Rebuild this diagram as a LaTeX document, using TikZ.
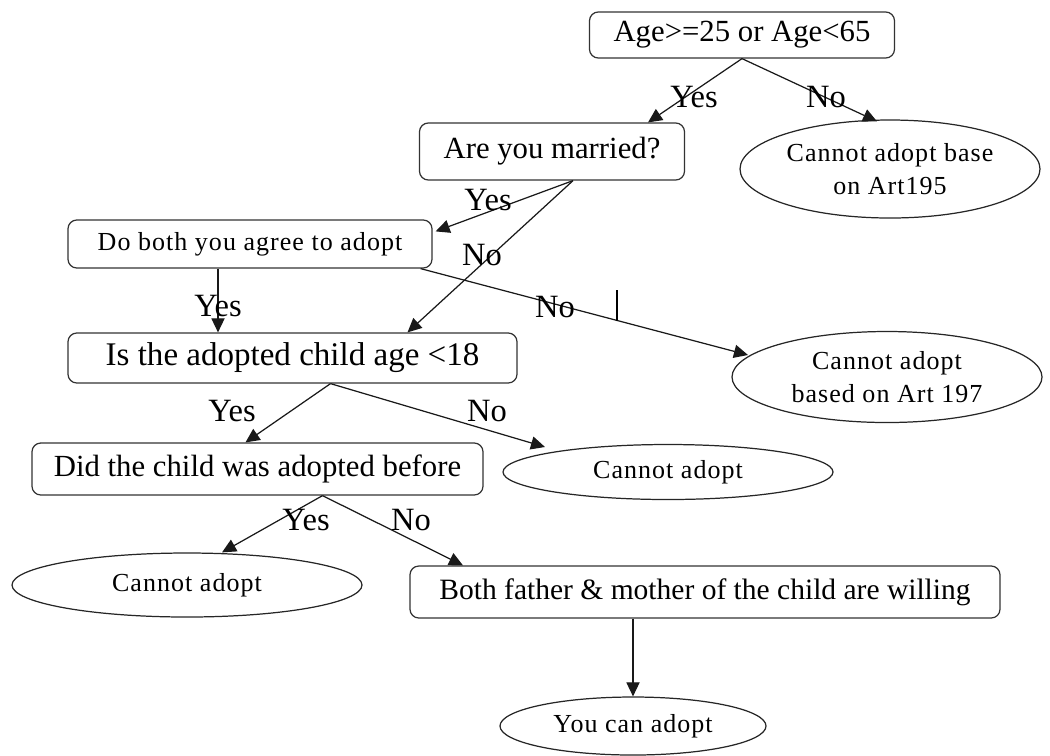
\documentclass[tikz,border=0pt]{standalone}
\usepackage{fontspec}
\setmainfont{Liberation Serif}
\newfontfamily\spacedserif[LetterSpace=4]{Liberation Serif}
\usetikzlibrary{shapes.geometric,arrows.meta,calc}
\newcommand\pxu{0.02cm}
\tikzset{
  box/.style={draw=black!80, line width=0.7pt, rounded corners=5pt, inner sep=0pt, fill=white},
  oval/.style={draw=black!85, line width=0.7pt, ellipse, inner sep=0pt, align=center, fill=white},
  big/.style={font=\fontsize{17.5}{20}\selectfont},
  small/.style={font=\spacedserif\fontsize{14.8}{19}\selectfont},
  lbl/.style={font=\fontsize{18.5}{20}\selectfont, inner sep=0pt},
  conn/.style={draw=black!90, line width=0.7pt, -{Triangle[length=8pt,width=7.5pt]}},
}
\begin{document}
\begin{tikzpicture}[x=\pxu, y=-\pxu]
\useasboundingbox (0,0) rectangle (1050,755);

% decision boxes
\node[box, big, minimum width=305*\pxu, minimum height=46*\pxu] (age) at (742,35) {Age>=25 or Age<65};
\node[box, big, minimum width=265*\pxu, minimum height=57*\pxu] (married) at (552,151.5) {Are you married?};
\node[box, small, minimum width=364*\pxu, minimum height=48*\pxu] (agree) at (250,244) {Do both you agree to adopt};
\node[box, font=\fontsize{18.8}{20}\selectfont, minimum width=449*\pxu, minimum height=50*\pxu] (child) at (292.5,358) {Is the adopted child age <18};
\node[box, big, minimum width=451*\pxu, minimum height=52*\pxu] (before) at (257.5,469) {Did the child was adopted before};
\node[box, font=\fontsize{16.8}{20}\selectfont, minimum width=590*\pxu, minimum height=52*\pxu] (willing) at (705,592) {Both father \& mother of the child are willing};

% outcomes
\node[oval, small, minimum width=300*\pxu, minimum height=98*\pxu] (art195) at (890,169) {Cannot adopt base\\on Art195};
\node[oval, small, minimum width=310*\pxu, minimum height=91*\pxu] (art197) at (887,377) {Cannot adopt\\based on Art 197};
\node[oval, small, minimum width=330*\pxu, minimum height=55*\pxu] (no1) at (668,472) {Cannot adopt};
\node[oval, small, minimum width=350*\pxu, minimum height=64*\pxu] (no2) at (187,585) {Cannot adopt};
\node[oval, small, minimum width=266*\pxu, minimum height=58*\pxu] (yes) at (633,726) {You can adopt};

% connectors
\path[conn] (age.south) -- ($(married.north)+(96,0)$);
\path[conn] (age.south) -- ($(art195.north)+(-13,2)$);
\path[conn] ($(married.south)+(21,0)$) -- ($(agree.north east)+(3,12)$);
\path[conn] ($(married.south)+(21,0)$) -- ($(child.north)+(115,0)$);
\path[conn] ($(agree.south)+(-32,0)$) -- ($(child.north)+(-74.5,0)$);
\path[conn] ($(agree.south east)+(-12,0)$) -- ($(art197.center)+(-139,-22)$);
\path[conn] ($(child.south)+(38,0)$) -- ($(before.north)+(-12,0)$);
\path[conn] ($(child.south)+(38,0)$) -- ($(no1.center)+(-123,-25)$);
\path[conn] ($(before.south)+(65,0)$) -- ($(no2.north)+(35,0)$);
\path[conn] ($(before.south)+(65,0)$) -- ($(willing.north)+(-242,0)$);
\path[conn] ($(willing.south)+(-72,0)$) -- (yes.north);

% branch labels
\node[lbl] (l1) at (694,97) {Yes};
\node[lbl] (l2) at (826,97) {No};
\node[lbl] (l3) at (488,200) {Yes};
\node[lbl] (l4) at (482,255) {No};
\node[lbl] (l5) at (218,306) {Yes};
\node[lbl] (l6) at (555,307) {No};
\node[lbl] (l7) at (232,411) {Yes};
\node[lbl] (l8) at (487,411) {No};
\node[lbl] (l9) at (306,520) {Yes};
\node[lbl] (l10) at (411,520) {No};

% stray caret mark
\draw[line width=1.3pt] (617,290) -- (617,321);
\end{tikzpicture}
\end{document}
